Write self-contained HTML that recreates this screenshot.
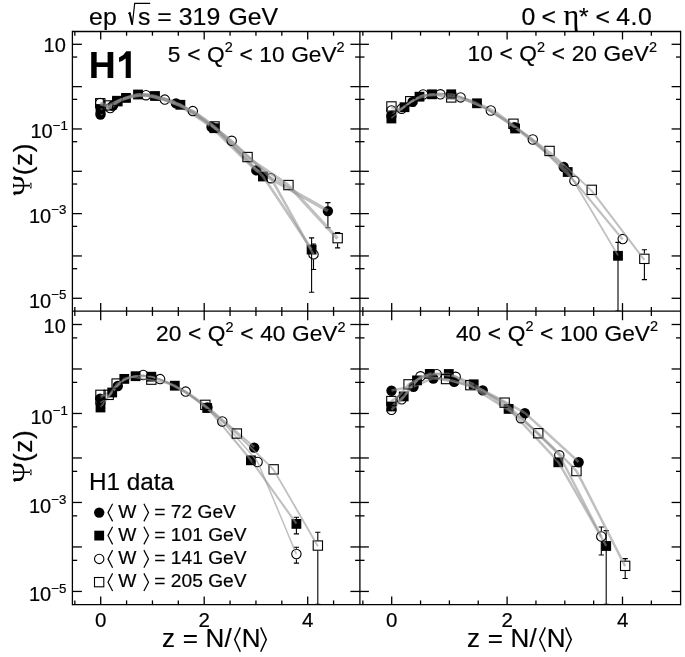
<!DOCTYPE html>
<html><head><meta charset="utf-8"><title>H1 KNO</title>
<style>html,body{margin:0;padding:0;background:#fff;}body{width:685px;height:657px;overflow:hidden;font-family:"Liberation Sans",sans-serif;}svg{display:block;will-change:transform}</style>
</head><body>
<svg width="685" height="657" viewBox="0 0 685 657" font-family="Liberation Sans, sans-serif" fill="#000">
<rect width="685" height="657" fill="#fff"/>
<g clip-path="url(#cpTL)">
<clipPath id="cpTL"><rect x="72.4" y="31.5" width="287.5" height="279.6"/></clipPath>
<line x1="327.90" y1="202.60" x2="327.90" y2="227.70" stroke="#000" stroke-width="1.1" />
<line x1="325.30" y1="202.60" x2="330.50" y2="202.60" stroke="#000" stroke-width="1.1" />
<line x1="325.30" y1="227.70" x2="330.50" y2="227.70" stroke="#000" stroke-width="1.1" />
<circle cx="100.5" cy="114.5" r="5.2" fill="#000"/>
<circle cx="113.0" cy="105.5" r="5.2" fill="#000"/>
<circle cx="176.0" cy="103.4" r="5.2" fill="#000"/>
<circle cx="211.5" cy="127.0" r="5.2" fill="#000"/>
<circle cx="256.3" cy="170.4" r="5.2" fill="#000"/>
<circle cx="327.9" cy="211.1" r="5.2" fill="#000"/>
<path d="M100.5,114.1 C100.9,113.8 112.2,105.6 113.0,105.1 C113.8,104.6 126.2,97.5 127.0,97.2 C127.8,96.9 140.2,94.1 141.0,94.1 C141.8,94.1 153.9,95.6 155.0,95.9 C156.1,96.2 174.3,102.1 176.0,103.0 C177.7,103.9 209.1,124.6 211.5,126.6 C213.9,128.6 252.8,167.5 256.3,170.0 C259.8,172.5 325.8,209.5 327.9,210.7" fill="none" stroke="#8f8f8f" stroke-opacity="0.56" stroke-width="3.4" stroke-linejoin="round" stroke-linecap="butt"/>
<line x1="311.60" y1="237.90" x2="311.60" y2="292.20" stroke="#000" stroke-width="1.1" />
<line x1="309.00" y1="237.90" x2="314.20" y2="237.90" stroke="#000" stroke-width="1.1" />
<line x1="309.00" y1="292.20" x2="314.20" y2="292.20" stroke="#000" stroke-width="1.1" />
<rect x="95.6" y="104.1" width="9.8" height="9.8" fill="#000"/>
<rect x="112.1" y="96.4" width="9.8" height="9.8" fill="#000"/>
<rect x="121.1" y="93.0" width="9.8" height="9.8" fill="#000"/>
<rect x="133.1" y="89.6" width="9.8" height="9.8" fill="#000"/>
<rect x="150.1" y="91.1" width="9.8" height="9.8" fill="#000"/>
<rect x="175.5" y="99.9" width="9.8" height="9.8" fill="#000"/>
<rect x="209.5" y="123.3" width="9.8" height="9.8" fill="#000"/>
<rect x="258.0" y="171.6" width="9.8" height="9.8" fill="#000"/>
<rect x="306.7" y="244.7" width="9.8" height="9.8" fill="#000"/>
<path d="M100.5,108.9 C100.8,108.8 110.5,105.9 111.0,105.7 C111.5,105.5 116.5,101.4 117.0,101.2 C117.5,101.0 125.4,98.0 126.0,97.8 C126.6,97.6 137.1,94.5 138.0,94.4 C138.9,94.3 153.7,95.6 155.0,95.9 C156.3,96.2 178.6,103.7 180.4,104.7 C182.2,105.7 211.9,125.9 214.4,128.1 C216.9,130.3 260.0,172.8 262.9,176.4 C265.8,180.0 310.1,247.3 311.6,249.5" fill="none" stroke="#8f8f8f" stroke-opacity="0.56" stroke-width="2.6" stroke-linejoin="round" stroke-linecap="butt"/>
<line x1="313.50" y1="244.00" x2="313.50" y2="249.20" stroke="#000" stroke-width="1.1" />
<line x1="313.50" y1="259.60" x2="313.50" y2="269.50" stroke="#000" stroke-width="1.1" />
<line x1="310.90" y1="244.00" x2="316.10" y2="244.00" stroke="#000" stroke-width="1.1" />
<line x1="310.90" y1="269.50" x2="316.10" y2="269.50" stroke="#000" stroke-width="1.1" />
<circle cx="100.2" cy="103.0" r="4.7" fill="none" stroke="#000" stroke-width="1.1"/>
<circle cx="110.2" cy="108.0" r="4.7" fill="none" stroke="#000" stroke-width="1.1"/>
<circle cx="146.0" cy="95.2" r="4.7" fill="none" stroke="#000" stroke-width="1.1"/>
<circle cx="164.8" cy="99.6" r="4.7" fill="none" stroke="#000" stroke-width="1.1"/>
<circle cx="192.8" cy="111.1" r="4.7" fill="none" stroke="#000" stroke-width="1.1"/>
<circle cx="231.7" cy="140.8" r="4.7" fill="none" stroke="#000" stroke-width="1.1"/>
<circle cx="270.9" cy="178.2" r="4.7" fill="none" stroke="#000" stroke-width="1.1"/>
<circle cx="313.5" cy="254.4" r="4.7" fill="none" stroke="#000" stroke-width="1.1"/>
<path d="M100.2,103.2 C100.5,103.3 109.6,108.2 110.2,108.2 C110.8,108.1 119.9,100.3 120.5,100.0 C121.1,99.6 129.7,96.9 130.5,96.8 C131.3,96.6 145.0,95.3 146.0,95.4 C147.0,95.4 163.4,99.3 164.8,99.8 C166.2,100.2 190.8,110.0 192.8,111.2 C194.8,112.5 229.4,138.9 231.7,141.0 C234.0,143.0 268.4,174.9 270.9,178.3 C273.4,181.8 312.2,252.3 313.5,254.6" fill="none" stroke="#8f8f8f" stroke-opacity="0.56" stroke-width="2.6" stroke-linejoin="round" stroke-linecap="butt"/>
<line x1="337.60" y1="232.50" x2="337.60" y2="232.90" stroke="#000" stroke-width="1.1" />
<line x1="337.60" y1="243.30" x2="337.60" y2="247.90" stroke="#000" stroke-width="1.1" />
<line x1="335.00" y1="232.50" x2="340.20" y2="232.50" stroke="#000" stroke-width="1.1" />
<line x1="335.00" y1="247.90" x2="340.20" y2="247.90" stroke="#000" stroke-width="1.1" />
<rect x="95.6" y="98.6" width="9.3" height="9.3" fill="none" stroke="#000" stroke-width="1.1"/>
<rect x="103.3" y="100.8" width="9.3" height="9.3" fill="none" stroke="#000" stroke-width="1.1"/>
<rect x="112.8" y="96.4" width="9.3" height="9.3" fill="none" stroke="#000" stroke-width="1.1"/>
<rect x="209.9" y="121.8" width="9.3" height="9.3" fill="none" stroke="#000" stroke-width="1.1"/>
<rect x="242.9" y="152.4" width="9.3" height="9.3" fill="none" stroke="#000" stroke-width="1.1"/>
<rect x="283.8" y="180.4" width="9.3" height="9.3" fill="none" stroke="#000" stroke-width="1.1"/>
<rect x="333.0" y="233.5" width="9.3" height="9.3" fill="none" stroke="#000" stroke-width="1.1"/>
<path d="M100.3,103.7 C100.5,103.8 107.5,106.0 108.0,105.9 C108.5,105.8 117.0,101.7 117.5,101.5 C118.0,101.3 124.0,99.0 124.5,98.8 C125.0,98.7 132.0,96.6 132.5,96.5 C133.0,96.4 140.0,94.8 140.5,94.8 C141.0,94.8 149.3,95.7 150.0,95.8 C150.7,95.9 163.1,99.4 164.0,99.7 C164.9,100.0 178.0,104.4 179.0,104.8 C180.0,105.2 194.9,112.6 196.0,113.3 C197.1,114.0 213.0,125.6 214.5,126.9 C216.0,128.2 245.3,155.6 247.5,157.4 C249.7,159.2 285.7,183.0 288.4,185.4 C291.1,187.8 336.1,236.9 337.6,238.5" fill="none" stroke="#8f8f8f" stroke-opacity="0.56" stroke-width="3.3" stroke-linejoin="round" stroke-linecap="butt"/>
</g>
<g clip-path="url(#cpTR)">
<clipPath id="cpTR"><rect x="359.9" y="31.5" width="320.70000000000005" height="279.6"/></clipPath>
<circle cx="391.4" cy="116.0" r="5.2" fill="#000"/>
<circle cx="412.6" cy="101.9" r="5.2" fill="#000"/>
<circle cx="514.5" cy="127.3" r="5.2" fill="#000"/>
<circle cx="563.7" cy="167.0" r="5.2" fill="#000"/>
<path d="M391.4,114.8 C392.0,114.4 411.4,101.4 412.6,100.7 C413.8,100.0 430.8,93.3 432.0,93.1 C433.2,92.9 450.1,94.3 451.5,94.6 C452.9,94.9 475.7,101.9 477.0,102.4 C478.3,102.9 493.9,110.7 495.0,111.4 C496.1,112.1 512.4,124.5 514.5,126.1 C516.6,127.7 562.2,164.6 563.7,165.8" fill="none" stroke="#8f8f8f" stroke-opacity="0.56" stroke-width="2.0" stroke-linejoin="round" stroke-linecap="butt"/>
<line x1="618.00" y1="242.40" x2="618.00" y2="311.00" stroke="#000" stroke-width="1.1" />
<line x1="615.40" y1="242.40" x2="620.60" y2="242.40" stroke="#000" stroke-width="1.1" />
<line x1="615.40" y1="311.00" x2="620.60" y2="311.00" stroke="#000" stroke-width="1.1" />
<rect x="386.5" y="113.6" width="9.8" height="9.8" fill="#000"/>
<rect x="399.6" y="102.3" width="9.8" height="9.8" fill="#000"/>
<rect x="414.6" y="91.8" width="9.8" height="9.8" fill="#000"/>
<rect x="427.1" y="89.4" width="9.8" height="9.8" fill="#000"/>
<rect x="446.3" y="89.4" width="9.8" height="9.8" fill="#000"/>
<rect x="472.1" y="98.4" width="9.8" height="9.8" fill="#000"/>
<rect x="510.2" y="123.6" width="9.8" height="9.8" fill="#000"/>
<rect x="562.8" y="167.1" width="9.8" height="9.8" fill="#000"/>
<rect x="613.1" y="250.9" width="9.8" height="9.8" fill="#000"/>
<path d="M391.4,118.1 C391.8,117.8 403.7,107.5 404.5,106.8 C405.3,106.1 418.7,96.7 419.5,96.3 C420.3,95.9 431.0,94.0 432.0,93.9 C433.0,93.8 449.8,93.6 451.2,93.9 C452.6,94.2 475.1,101.9 477.0,102.9 C478.9,103.9 512.4,126.0 515.1,128.1 C517.8,130.2 564.6,167.8 567.7,171.6 C570.8,175.4 616.5,252.9 618.0,255.4" fill="none" stroke="#8f8f8f" stroke-opacity="0.56" stroke-width="1.7" stroke-linejoin="round" stroke-linecap="butt"/>
<circle cx="391.5" cy="110.5" r="4.7" fill="none" stroke="#000" stroke-width="1.1"/>
<circle cx="401.7" cy="108.7" r="4.7" fill="none" stroke="#000" stroke-width="1.1"/>
<circle cx="423.2" cy="94.5" r="4.7" fill="none" stroke="#000" stroke-width="1.1"/>
<circle cx="440.4" cy="94.3" r="4.7" fill="none" stroke="#000" stroke-width="1.1"/>
<circle cx="460.6" cy="97.4" r="4.7" fill="none" stroke="#000" stroke-width="1.1"/>
<circle cx="490.8" cy="110.5" r="4.7" fill="none" stroke="#000" stroke-width="1.1"/>
<circle cx="532.8" cy="139.5" r="4.7" fill="none" stroke="#000" stroke-width="1.1"/>
<circle cx="574.4" cy="180.8" r="4.7" fill="none" stroke="#000" stroke-width="1.1"/>
<circle cx="622.7" cy="239.1" r="4.7" fill="none" stroke="#000" stroke-width="1.1"/>
<path d="M391.5,110.9 C391.8,110.8 401.1,109.4 401.7,109.1 C402.3,108.8 411.4,101.6 412.0,101.2 C412.6,100.8 422.3,95.1 423.2,94.9 C424.1,94.7 439.3,94.6 440.4,94.7 C441.5,94.8 459.1,97.3 460.6,97.8 C462.1,98.3 488.6,109.6 490.8,110.9 C493.0,112.2 530.3,137.8 532.8,139.9 C535.3,142.0 571.7,178.2 574.4,181.2 C577.1,184.2 621.3,237.8 622.7,239.5" fill="none" stroke="#8f8f8f" stroke-opacity="0.56" stroke-width="2.1" stroke-linejoin="round" stroke-linecap="butt"/>
<line x1="644.40" y1="249.80" x2="644.40" y2="253.60" stroke="#000" stroke-width="1.1" />
<line x1="644.40" y1="264.00" x2="644.40" y2="279.60" stroke="#000" stroke-width="1.1" />
<line x1="641.80" y1="249.80" x2="647.00" y2="249.80" stroke="#000" stroke-width="1.1" />
<line x1="641.80" y1="279.60" x2="647.00" y2="279.60" stroke="#000" stroke-width="1.1" />
<rect x="386.8" y="101.8" width="9.3" height="9.3" fill="none" stroke="#000" stroke-width="1.1"/>
<rect x="405.6" y="96.6" width="9.3" height="9.3" fill="none" stroke="#000" stroke-width="1.1"/>
<rect x="446.6" y="92.8" width="9.3" height="9.3" fill="none" stroke="#000" stroke-width="1.1"/>
<rect x="508.8" y="119.1" width="9.3" height="9.3" fill="none" stroke="#000" stroke-width="1.1"/>
<rect x="544.9" y="146.3" width="9.3" height="9.3" fill="none" stroke="#000" stroke-width="1.1"/>
<rect x="587.1" y="185.2" width="9.3" height="9.3" fill="none" stroke="#000" stroke-width="1.1"/>
<rect x="639.7" y="254.2" width="9.3" height="9.3" fill="none" stroke="#000" stroke-width="1.1"/>
<path d="M391.4,107.7 C391.7,107.7 399.9,108.9 400.5,108.7 C401.1,108.5 409.6,102.8 410.2,102.5 C410.8,102.2 418.5,98.4 419.0,98.2 C419.5,98.0 427.5,95.8 428.0,95.7 C428.5,95.6 436.3,95.3 437.0,95.4 C437.7,95.5 450.4,98.5 451.2,98.6 C452.0,98.8 464.1,100.2 465.0,100.4 C465.9,100.6 481.0,106.4 482.0,106.8 C483.0,107.2 496.1,114.3 497.0,114.8 C497.9,115.3 511.8,123.9 513.4,125.0 C515.0,126.1 547.2,150.1 549.6,152.1 C552.0,154.1 589.0,187.8 591.8,191.0 C594.6,194.2 642.8,257.9 644.4,260.0" fill="none" stroke="#8f8f8f" stroke-opacity="0.56" stroke-width="1.9" stroke-linejoin="round" stroke-linecap="butt"/>
</g>
<g clip-path="url(#cpBL)">
<clipPath id="cpBL"><rect x="72.4" y="311.1" width="287.5" height="293.5"/></clipPath>
<circle cx="100.2" cy="398.7" r="5.2" fill="#000"/>
<circle cx="117.8" cy="386.0" r="5.2" fill="#000"/>
<circle cx="207.4" cy="407.4" r="5.2" fill="#000"/>
<circle cx="254.2" cy="447.6" r="5.2" fill="#000"/>
<path d="M100.2,398.1 C100.7,397.7 116.7,386.1 117.8,385.4 C118.9,384.7 134.6,375.7 135.6,375.4 C136.6,375.1 150.8,376.3 152.0,376.6 C153.2,376.9 172.9,384.2 174.0,384.7 C175.1,385.2 189.0,393.3 190.0,394.0 C191.0,394.7 205.5,405.2 207.4,406.8 C209.3,408.4 252.8,445.8 254.2,447.0" fill="none" stroke="#8f8f8f" stroke-opacity="0.56" stroke-width="2.0" stroke-linejoin="round" stroke-linecap="butt"/>
<line x1="296.40" y1="517.20" x2="296.40" y2="533.90" stroke="#000" stroke-width="1.1" />
<line x1="293.80" y1="517.20" x2="299.00" y2="517.20" stroke="#000" stroke-width="1.1" />
<line x1="293.80" y1="533.90" x2="299.00" y2="533.90" stroke="#000" stroke-width="1.1" />
<rect x="95.6" y="402.6" width="9.8" height="9.8" fill="#000"/>
<rect x="107.3" y="387.6" width="9.8" height="9.8" fill="#000"/>
<rect x="119.4" y="374.0" width="9.8" height="9.8" fill="#000"/>
<rect x="130.7" y="371.3" width="9.8" height="9.8" fill="#000"/>
<rect x="146.4" y="371.8" width="9.8" height="9.8" fill="#000"/>
<rect x="169.9" y="380.8" width="9.8" height="9.8" fill="#000"/>
<rect x="202.3" y="403.1" width="9.8" height="9.8" fill="#000"/>
<rect x="246.0" y="455.4" width="9.8" height="9.8" fill="#000"/>
<rect x="291.5" y="519.0" width="9.8" height="9.8" fill="#000"/>
<path d="M100.5,407.3 C100.9,406.9 111.5,393.2 112.2,392.3 C112.9,391.4 123.6,379.2 124.3,378.7 C125.0,378.2 134.8,376.1 135.6,376.0 C136.4,375.9 150.1,376.2 151.3,376.5 C152.5,376.8 173.1,384.6 174.8,385.5 C176.5,386.4 204.9,405.6 207.2,407.8 C209.5,410.0 248.2,456.6 250.9,460.1 C253.6,463.6 295.0,521.8 296.4,523.7" fill="none" stroke="#8f8f8f" stroke-opacity="0.56" stroke-width="2.1" stroke-linejoin="round" stroke-linecap="butt"/>
<line x1="296.40" y1="547.30" x2="296.40" y2="548.80" stroke="#000" stroke-width="1.1" />
<line x1="296.40" y1="559.20" x2="296.40" y2="563.10" stroke="#000" stroke-width="1.1" />
<line x1="293.80" y1="547.30" x2="299.00" y2="547.30" stroke="#000" stroke-width="1.1" />
<line x1="293.80" y1="563.10" x2="299.00" y2="563.10" stroke="#000" stroke-width="1.1" />
<circle cx="100.4" cy="402.5" r="4.7" fill="none" stroke="#000" stroke-width="1.1"/>
<circle cx="143.2" cy="375.0" r="4.7" fill="none" stroke="#000" stroke-width="1.1"/>
<circle cx="160.1" cy="379.1" r="4.7" fill="none" stroke="#000" stroke-width="1.1"/>
<circle cx="185.7" cy="391.6" r="4.7" fill="none" stroke="#000" stroke-width="1.1"/>
<circle cx="222.3" cy="421.5" r="4.7" fill="none" stroke="#000" stroke-width="1.1"/>
<circle cx="257.6" cy="462.0" r="4.7" fill="none" stroke="#000" stroke-width="1.1"/>
<circle cx="296.4" cy="554.0" r="4.7" fill="none" stroke="#000" stroke-width="1.1"/>
<path d="M100.4,402.7 C100.7,402.5 108.9,396.3 109.5,395.7 C110.1,395.1 118.4,384.0 119.0,383.5 C119.6,383.0 128.3,377.7 129.0,377.5 C129.7,377.3 142.3,375.1 143.2,375.2 C144.1,375.3 158.8,378.8 160.1,379.3 C161.4,379.8 183.8,390.5 185.7,391.8 C187.6,393.1 220.1,419.6 222.3,421.7 C224.5,423.8 255.4,458.2 257.6,462.2 C259.8,466.2 295.2,551.4 296.4,554.2" fill="none" stroke="#8f8f8f" stroke-opacity="0.56" stroke-width="1.5" stroke-linejoin="round" stroke-linecap="butt"/>
<line x1="317.80" y1="532.30" x2="317.80" y2="540.40" stroke="#000" stroke-width="1.1" />
<line x1="317.80" y1="550.80" x2="317.80" y2="604.40" stroke="#000" stroke-width="1.1" />
<line x1="315.20" y1="532.30" x2="320.40" y2="532.30" stroke="#000" stroke-width="1.1" />
<line x1="315.20" y1="604.40" x2="320.40" y2="604.40" stroke="#000" stroke-width="1.1" />
<rect x="95.8" y="390.2" width="9.3" height="9.3" fill="none" stroke="#000" stroke-width="1.1"/>
<rect x="104.0" y="390.2" width="9.3" height="9.3" fill="none" stroke="#000" stroke-width="1.1"/>
<rect x="112.0" y="378.9" width="9.3" height="9.3" fill="none" stroke="#000" stroke-width="1.1"/>
<rect x="146.7" y="375.0" width="9.3" height="9.3" fill="none" stroke="#000" stroke-width="1.1"/>
<rect x="200.7" y="400.2" width="9.3" height="9.3" fill="none" stroke="#000" stroke-width="1.1"/>
<rect x="232.2" y="428.9" width="9.3" height="9.3" fill="none" stroke="#000" stroke-width="1.1"/>
<rect x="269.0" y="464.7" width="9.3" height="9.3" fill="none" stroke="#000" stroke-width="1.1"/>
<rect x="313.2" y="540.9" width="9.3" height="9.3" fill="none" stroke="#000" stroke-width="1.1"/>
<path d="M100.4,395.4 C100.6,395.4 108.2,395.7 108.7,395.4 C109.2,395.1 116.2,384.6 116.7,384.1 C117.2,383.6 124.0,380.0 124.5,379.8 C125.0,379.6 131.2,377.2 132.0,377.2 C132.8,377.2 150.2,380.0 151.3,380.2 C152.4,380.4 168.9,383.9 170.0,384.3 C171.1,384.7 186.9,393.2 188.0,393.8 C189.1,394.4 203.8,404.3 205.3,405.5 C206.8,406.7 234.8,432.2 236.8,434.1 C238.8,436.0 271.2,466.5 273.6,469.9 C276.0,473.3 316.5,543.9 317.8,546.2" fill="none" stroke="#8f8f8f" stroke-opacity="0.56" stroke-width="1.8" stroke-linejoin="round" stroke-linecap="butt"/>
</g>
<g clip-path="url(#cpBR)">
<clipPath id="cpBR"><rect x="359.9" y="311.1" width="320.70000000000005" height="293.5"/></clipPath>
<circle cx="391.5" cy="390.7" r="5.2" fill="#000"/>
<circle cx="413.5" cy="386.8" r="5.2" fill="#000"/>
<circle cx="433.3" cy="378.5" r="5.2" fill="#000"/>
<circle cx="454.2" cy="381.9" r="5.2" fill="#000"/>
<circle cx="482.7" cy="390.4" r="5.2" fill="#000"/>
<circle cx="524.8" cy="413.3" r="5.2" fill="#000"/>
<circle cx="578.6" cy="462.3" r="5.2" fill="#000"/>
<path d="M391.5,390.4 C392.2,390.3 412.2,386.9 413.5,386.5 C414.8,386.1 432.1,378.3 433.3,378.2 C434.5,378.1 452.7,381.2 454.2,381.6 C455.7,382.0 480.6,389.2 482.7,390.1 C484.8,391.0 521.9,410.8 524.8,413.0 C527.7,415.2 577.0,460.5 578.6,462.0" fill="none" stroke="#8f8f8f" stroke-opacity="0.56" stroke-width="2.5" stroke-linejoin="round" stroke-linecap="butt"/>
<line x1="606.20" y1="530.60" x2="606.20" y2="604.40" stroke="#000" stroke-width="1.1" />
<line x1="603.60" y1="530.60" x2="608.80" y2="530.60" stroke="#000" stroke-width="1.1" />
<line x1="603.60" y1="604.40" x2="608.80" y2="604.40" stroke="#000" stroke-width="1.1" />
<rect x="386.5" y="401.6" width="9.8" height="9.8" fill="#000"/>
<rect x="398.8" y="391.5" width="9.8" height="9.8" fill="#000"/>
<rect x="412.1" y="375.5" width="9.8" height="9.8" fill="#000"/>
<rect x="424.9" y="369.0" width="9.8" height="9.8" fill="#000"/>
<rect x="443.9" y="369.1" width="9.8" height="9.8" fill="#000"/>
<rect x="468.8" y="379.4" width="9.8" height="9.8" fill="#000"/>
<rect x="503.7" y="404.0" width="9.8" height="9.8" fill="#000"/>
<rect x="553.4" y="457.4" width="9.8" height="9.8" fill="#000"/>
<rect x="601.3" y="541.1" width="9.8" height="9.8" fill="#000"/>
<path d="M391.4,406.4 C391.8,406.1 402.9,397.1 403.7,396.3 C404.5,395.5 416.2,381.0 417.0,380.3 C417.8,379.6 428.8,374.0 429.8,373.8 C430.8,373.6 447.5,373.6 448.8,373.9 C450.1,374.2 471.9,383.2 473.7,384.2 C475.5,385.2 506.1,406.5 508.6,408.8 C511.1,411.1 555.4,458.1 558.3,462.2 C561.2,466.3 604.8,543.4 606.2,545.9" fill="none" stroke="#8f8f8f" stroke-opacity="0.56" stroke-width="2.4" stroke-linejoin="round" stroke-linecap="butt"/>
<line x1="601.30" y1="527.00" x2="601.30" y2="531.30" stroke="#000" stroke-width="1.1" />
<line x1="601.30" y1="541.70" x2="601.30" y2="555.00" stroke="#000" stroke-width="1.1" />
<line x1="598.70" y1="527.00" x2="603.90" y2="527.00" stroke="#000" stroke-width="1.1" />
<line x1="598.70" y1="555.00" x2="603.90" y2="555.00" stroke="#000" stroke-width="1.1" />
<circle cx="391.5" cy="409.8" r="4.7" fill="none" stroke="#000" stroke-width="1.1"/>
<circle cx="401.7" cy="399.3" r="4.7" fill="none" stroke="#000" stroke-width="1.1"/>
<circle cx="420.5" cy="376.3" r="4.7" fill="none" stroke="#000" stroke-width="1.1"/>
<circle cx="436.7" cy="374.2" r="4.7" fill="none" stroke="#000" stroke-width="1.1"/>
<circle cx="455.7" cy="376.8" r="4.7" fill="none" stroke="#000" stroke-width="1.1"/>
<circle cx="520.9" cy="418.2" r="4.7" fill="none" stroke="#000" stroke-width="1.1"/>
<circle cx="559.3" cy="455.3" r="4.7" fill="none" stroke="#000" stroke-width="1.1"/>
<circle cx="601.3" cy="536.5" r="4.7" fill="none" stroke="#000" stroke-width="1.1"/>
<path d="M391.5,409.9 C391.8,409.6 401.1,400.1 401.7,399.4 C402.3,398.7 410.4,388.8 411.0,388.1 C411.6,387.4 419.7,376.8 420.5,376.4 C421.3,376.0 435.6,374.3 436.7,374.3 C437.8,374.3 453.2,375.6 455.7,376.9 C458.2,378.2 517.8,415.9 520.9,418.3 C524.0,420.7 556.9,451.9 559.3,455.4 C561.7,458.9 600.0,534.2 601.3,536.6" fill="none" stroke="#8f8f8f" stroke-opacity="0.56" stroke-width="2.4" stroke-linejoin="round" stroke-linecap="butt"/>
<line x1="625.20" y1="558.60" x2="625.20" y2="560.70" stroke="#000" stroke-width="1.1" />
<line x1="625.20" y1="571.10" x2="625.20" y2="578.50" stroke="#000" stroke-width="1.1" />
<line x1="622.60" y1="558.60" x2="627.80" y2="558.60" stroke="#000" stroke-width="1.1" />
<line x1="622.60" y1="578.50" x2="627.80" y2="578.50" stroke="#000" stroke-width="1.1" />
<rect x="386.7" y="396.4" width="9.3" height="9.3" fill="none" stroke="#000" stroke-width="1.1"/>
<rect x="403.9" y="379.7" width="9.3" height="9.3" fill="none" stroke="#000" stroke-width="1.1"/>
<rect x="441.4" y="374.4" width="9.3" height="9.3" fill="none" stroke="#000" stroke-width="1.1"/>
<rect x="465.7" y="380.5" width="9.3" height="9.3" fill="none" stroke="#000" stroke-width="1.1"/>
<rect x="500.0" y="398.0" width="9.3" height="9.3" fill="none" stroke="#000" stroke-width="1.1"/>
<rect x="533.6" y="428.6" width="9.3" height="9.3" fill="none" stroke="#000" stroke-width="1.1"/>
<rect x="571.8" y="466.4" width="9.3" height="9.3" fill="none" stroke="#000" stroke-width="1.1"/>
<rect x="620.5" y="561.2" width="9.3" height="9.3" fill="none" stroke="#000" stroke-width="1.1"/>
<path d="M391.3,401.3 C391.5,401.1 399.0,395.8 399.5,395.3 C400.0,394.8 408.0,385.1 408.5,384.6 C409.0,384.2 415.5,380.5 416.0,380.3 C416.5,380.1 423.1,376.8 424.0,376.8 C424.9,376.8 444.6,379.0 446.0,379.3 C447.4,379.6 468.5,384.7 470.3,385.4 C472.1,386.1 502.6,401.5 504.6,402.9 C506.6,404.3 536.1,431.4 538.3,433.5 C540.5,435.6 573.9,467.3 576.5,471.3 C579.1,475.3 623.7,563.4 625.2,566.2" fill="none" stroke="#8f8f8f" stroke-opacity="0.56" stroke-width="2.5" stroke-linejoin="round" stroke-linecap="butt"/>
</g>
<line x1="72.40" y1="31.50" x2="680.60" y2="31.50" stroke="#000" stroke-width="1.3" />
<line x1="72.40" y1="311.10" x2="680.60" y2="311.10" stroke="#000" stroke-width="1.3" />
<line x1="72.40" y1="604.60" x2="680.60" y2="604.60" stroke="#000" stroke-width="1.3" />
<line x1="72.40" y1="30.85" x2="72.40" y2="605.25" stroke="#000" stroke-width="1.3" />
<line x1="359.90" y1="31.50" x2="359.90" y2="604.60" stroke="#000" stroke-width="1.3" />
<line x1="680.60" y1="30.85" x2="680.60" y2="605.25" stroke="#000" stroke-width="1.3" />
<line x1="74.83" y1="31.50" x2="74.83" y2="35.70" stroke="#000" stroke-width="1.3" />
<line x1="74.83" y1="306.90" x2="74.83" y2="315.89" stroke="#000" stroke-width="1.3" />
<line x1="74.83" y1="600.40" x2="74.83" y2="604.60" stroke="#000" stroke-width="1.3" />
<line x1="100.70" y1="31.50" x2="100.70" y2="39.50" stroke="#000" stroke-width="1.3" />
<line x1="100.70" y1="303.10" x2="100.70" y2="320.22" stroke="#000" stroke-width="1.3" />
<line x1="100.70" y1="596.60" x2="100.70" y2="604.60" stroke="#000" stroke-width="1.3" />
<line x1="126.58" y1="31.50" x2="126.58" y2="35.70" stroke="#000" stroke-width="1.3" />
<line x1="126.58" y1="306.90" x2="126.58" y2="315.89" stroke="#000" stroke-width="1.3" />
<line x1="126.58" y1="600.40" x2="126.58" y2="604.60" stroke="#000" stroke-width="1.3" />
<line x1="152.45" y1="31.50" x2="152.45" y2="35.70" stroke="#000" stroke-width="1.3" />
<line x1="152.45" y1="306.90" x2="152.45" y2="315.89" stroke="#000" stroke-width="1.3" />
<line x1="152.45" y1="600.40" x2="152.45" y2="604.60" stroke="#000" stroke-width="1.3" />
<line x1="178.32" y1="31.50" x2="178.32" y2="35.70" stroke="#000" stroke-width="1.3" />
<line x1="178.32" y1="306.90" x2="178.32" y2="315.89" stroke="#000" stroke-width="1.3" />
<line x1="178.32" y1="600.40" x2="178.32" y2="604.60" stroke="#000" stroke-width="1.3" />
<line x1="204.20" y1="31.50" x2="204.20" y2="39.50" stroke="#000" stroke-width="1.3" />
<line x1="204.20" y1="303.10" x2="204.20" y2="320.22" stroke="#000" stroke-width="1.3" />
<line x1="204.20" y1="596.60" x2="204.20" y2="604.60" stroke="#000" stroke-width="1.3" />
<line x1="230.07" y1="31.50" x2="230.07" y2="35.70" stroke="#000" stroke-width="1.3" />
<line x1="230.07" y1="306.90" x2="230.07" y2="315.89" stroke="#000" stroke-width="1.3" />
<line x1="230.07" y1="600.40" x2="230.07" y2="604.60" stroke="#000" stroke-width="1.3" />
<line x1="255.95" y1="31.50" x2="255.95" y2="35.70" stroke="#000" stroke-width="1.3" />
<line x1="255.95" y1="306.90" x2="255.95" y2="315.89" stroke="#000" stroke-width="1.3" />
<line x1="255.95" y1="600.40" x2="255.95" y2="604.60" stroke="#000" stroke-width="1.3" />
<line x1="281.82" y1="31.50" x2="281.82" y2="35.70" stroke="#000" stroke-width="1.3" />
<line x1="281.82" y1="306.90" x2="281.82" y2="315.89" stroke="#000" stroke-width="1.3" />
<line x1="281.82" y1="600.40" x2="281.82" y2="604.60" stroke="#000" stroke-width="1.3" />
<line x1="307.70" y1="31.50" x2="307.70" y2="39.50" stroke="#000" stroke-width="1.3" />
<line x1="307.70" y1="303.10" x2="307.70" y2="320.22" stroke="#000" stroke-width="1.3" />
<line x1="307.70" y1="596.60" x2="307.70" y2="604.60" stroke="#000" stroke-width="1.3" />
<line x1="333.57" y1="31.50" x2="333.57" y2="35.70" stroke="#000" stroke-width="1.3" />
<line x1="333.57" y1="306.90" x2="333.57" y2="315.89" stroke="#000" stroke-width="1.3" />
<line x1="333.57" y1="600.40" x2="333.57" y2="604.60" stroke="#000" stroke-width="1.3" />
<line x1="362.85" y1="31.50" x2="362.85" y2="35.70" stroke="#000" stroke-width="1.3" />
<line x1="362.85" y1="306.90" x2="362.85" y2="315.89" stroke="#000" stroke-width="1.3" />
<line x1="362.85" y1="600.40" x2="362.85" y2="604.60" stroke="#000" stroke-width="1.3" />
<line x1="391.70" y1="31.50" x2="391.70" y2="39.50" stroke="#000" stroke-width="1.3" />
<line x1="391.70" y1="303.10" x2="391.70" y2="320.22" stroke="#000" stroke-width="1.3" />
<line x1="391.70" y1="596.60" x2="391.70" y2="604.60" stroke="#000" stroke-width="1.3" />
<line x1="420.55" y1="31.50" x2="420.55" y2="35.70" stroke="#000" stroke-width="1.3" />
<line x1="420.55" y1="306.90" x2="420.55" y2="315.89" stroke="#000" stroke-width="1.3" />
<line x1="420.55" y1="600.40" x2="420.55" y2="604.60" stroke="#000" stroke-width="1.3" />
<line x1="449.40" y1="31.50" x2="449.40" y2="35.70" stroke="#000" stroke-width="1.3" />
<line x1="449.40" y1="306.90" x2="449.40" y2="315.89" stroke="#000" stroke-width="1.3" />
<line x1="449.40" y1="600.40" x2="449.40" y2="604.60" stroke="#000" stroke-width="1.3" />
<line x1="478.25" y1="31.50" x2="478.25" y2="35.70" stroke="#000" stroke-width="1.3" />
<line x1="478.25" y1="306.90" x2="478.25" y2="315.89" stroke="#000" stroke-width="1.3" />
<line x1="478.25" y1="600.40" x2="478.25" y2="604.60" stroke="#000" stroke-width="1.3" />
<line x1="507.10" y1="31.50" x2="507.10" y2="39.50" stroke="#000" stroke-width="1.3" />
<line x1="507.10" y1="303.10" x2="507.10" y2="320.22" stroke="#000" stroke-width="1.3" />
<line x1="507.10" y1="596.60" x2="507.10" y2="604.60" stroke="#000" stroke-width="1.3" />
<line x1="535.95" y1="31.50" x2="535.95" y2="35.70" stroke="#000" stroke-width="1.3" />
<line x1="535.95" y1="306.90" x2="535.95" y2="315.89" stroke="#000" stroke-width="1.3" />
<line x1="535.95" y1="600.40" x2="535.95" y2="604.60" stroke="#000" stroke-width="1.3" />
<line x1="564.80" y1="31.50" x2="564.80" y2="35.70" stroke="#000" stroke-width="1.3" />
<line x1="564.80" y1="306.90" x2="564.80" y2="315.89" stroke="#000" stroke-width="1.3" />
<line x1="564.80" y1="600.40" x2="564.80" y2="604.60" stroke="#000" stroke-width="1.3" />
<line x1="593.65" y1="31.50" x2="593.65" y2="35.70" stroke="#000" stroke-width="1.3" />
<line x1="593.65" y1="306.90" x2="593.65" y2="315.89" stroke="#000" stroke-width="1.3" />
<line x1="593.65" y1="600.40" x2="593.65" y2="604.60" stroke="#000" stroke-width="1.3" />
<line x1="622.50" y1="31.50" x2="622.50" y2="39.50" stroke="#000" stroke-width="1.3" />
<line x1="622.50" y1="303.10" x2="622.50" y2="320.22" stroke="#000" stroke-width="1.3" />
<line x1="622.50" y1="596.60" x2="622.50" y2="604.60" stroke="#000" stroke-width="1.3" />
<line x1="651.35" y1="31.50" x2="651.35" y2="35.70" stroke="#000" stroke-width="1.3" />
<line x1="651.35" y1="306.90" x2="651.35" y2="315.89" stroke="#000" stroke-width="1.3" />
<line x1="651.35" y1="600.40" x2="651.35" y2="604.60" stroke="#000" stroke-width="1.3" />
<line x1="72.40" y1="44.30" x2="81.90" y2="44.30" stroke="#000" stroke-width="1.3" />
<line x1="350.40" y1="44.30" x2="368.90" y2="44.30" stroke="#000" stroke-width="1.3" />
<line x1="671.60" y1="44.30" x2="680.60" y2="44.30" stroke="#000" stroke-width="1.3" />
<line x1="72.40" y1="57.04" x2="77.20" y2="57.04" stroke="#000" stroke-width="1.3" />
<line x1="355.10" y1="57.04" x2="364.50" y2="57.04" stroke="#000" stroke-width="1.3" />
<line x1="676.00" y1="57.04" x2="680.60" y2="57.04" stroke="#000" stroke-width="1.3" />
<line x1="72.40" y1="86.63" x2="81.90" y2="86.63" stroke="#000" stroke-width="1.3" />
<line x1="350.40" y1="86.63" x2="368.90" y2="86.63" stroke="#000" stroke-width="1.3" />
<line x1="671.60" y1="86.63" x2="680.60" y2="86.63" stroke="#000" stroke-width="1.3" />
<line x1="72.40" y1="99.37" x2="77.20" y2="99.37" stroke="#000" stroke-width="1.3" />
<line x1="355.10" y1="99.37" x2="364.50" y2="99.37" stroke="#000" stroke-width="1.3" />
<line x1="676.00" y1="99.37" x2="680.60" y2="99.37" stroke="#000" stroke-width="1.3" />
<line x1="72.40" y1="128.96" x2="81.90" y2="128.96" stroke="#000" stroke-width="1.3" />
<line x1="350.40" y1="128.96" x2="368.90" y2="128.96" stroke="#000" stroke-width="1.3" />
<line x1="671.60" y1="128.96" x2="680.60" y2="128.96" stroke="#000" stroke-width="1.3" />
<line x1="72.40" y1="141.70" x2="77.20" y2="141.70" stroke="#000" stroke-width="1.3" />
<line x1="355.10" y1="141.70" x2="364.50" y2="141.70" stroke="#000" stroke-width="1.3" />
<line x1="676.00" y1="141.70" x2="680.60" y2="141.70" stroke="#000" stroke-width="1.3" />
<line x1="72.40" y1="171.29" x2="81.90" y2="171.29" stroke="#000" stroke-width="1.3" />
<line x1="350.40" y1="171.29" x2="368.90" y2="171.29" stroke="#000" stroke-width="1.3" />
<line x1="671.60" y1="171.29" x2="680.60" y2="171.29" stroke="#000" stroke-width="1.3" />
<line x1="72.40" y1="184.03" x2="77.20" y2="184.03" stroke="#000" stroke-width="1.3" />
<line x1="355.10" y1="184.03" x2="364.50" y2="184.03" stroke="#000" stroke-width="1.3" />
<line x1="676.00" y1="184.03" x2="680.60" y2="184.03" stroke="#000" stroke-width="1.3" />
<line x1="72.40" y1="213.62" x2="81.90" y2="213.62" stroke="#000" stroke-width="1.3" />
<line x1="350.40" y1="213.62" x2="368.90" y2="213.62" stroke="#000" stroke-width="1.3" />
<line x1="671.60" y1="213.62" x2="680.60" y2="213.62" stroke="#000" stroke-width="1.3" />
<line x1="72.40" y1="226.36" x2="77.20" y2="226.36" stroke="#000" stroke-width="1.3" />
<line x1="355.10" y1="226.36" x2="364.50" y2="226.36" stroke="#000" stroke-width="1.3" />
<line x1="676.00" y1="226.36" x2="680.60" y2="226.36" stroke="#000" stroke-width="1.3" />
<line x1="72.40" y1="255.95" x2="81.90" y2="255.95" stroke="#000" stroke-width="1.3" />
<line x1="350.40" y1="255.95" x2="368.90" y2="255.95" stroke="#000" stroke-width="1.3" />
<line x1="671.60" y1="255.95" x2="680.60" y2="255.95" stroke="#000" stroke-width="1.3" />
<line x1="72.40" y1="268.69" x2="77.20" y2="268.69" stroke="#000" stroke-width="1.3" />
<line x1="355.10" y1="268.69" x2="364.50" y2="268.69" stroke="#000" stroke-width="1.3" />
<line x1="676.00" y1="268.69" x2="680.60" y2="268.69" stroke="#000" stroke-width="1.3" />
<line x1="72.40" y1="298.28" x2="81.90" y2="298.28" stroke="#000" stroke-width="1.3" />
<line x1="350.40" y1="298.28" x2="368.90" y2="298.28" stroke="#000" stroke-width="1.3" />
<line x1="671.60" y1="298.28" x2="680.60" y2="298.28" stroke="#000" stroke-width="1.3" />
<line x1="72.40" y1="324.50" x2="81.90" y2="324.50" stroke="#000" stroke-width="1.3" />
<line x1="350.40" y1="324.50" x2="368.90" y2="324.50" stroke="#000" stroke-width="1.3" />
<line x1="671.60" y1="324.50" x2="680.60" y2="324.50" stroke="#000" stroke-width="1.3" />
<line x1="72.40" y1="337.89" x2="77.20" y2="337.89" stroke="#000" stroke-width="1.3" />
<line x1="355.10" y1="337.89" x2="364.50" y2="337.89" stroke="#000" stroke-width="1.3" />
<line x1="676.00" y1="337.89" x2="680.60" y2="337.89" stroke="#000" stroke-width="1.3" />
<line x1="72.40" y1="368.99" x2="81.90" y2="368.99" stroke="#000" stroke-width="1.3" />
<line x1="350.40" y1="368.99" x2="368.90" y2="368.99" stroke="#000" stroke-width="1.3" />
<line x1="671.60" y1="368.99" x2="680.60" y2="368.99" stroke="#000" stroke-width="1.3" />
<line x1="72.40" y1="382.38" x2="77.20" y2="382.38" stroke="#000" stroke-width="1.3" />
<line x1="355.10" y1="382.38" x2="364.50" y2="382.38" stroke="#000" stroke-width="1.3" />
<line x1="676.00" y1="382.38" x2="680.60" y2="382.38" stroke="#000" stroke-width="1.3" />
<line x1="72.40" y1="413.48" x2="81.90" y2="413.48" stroke="#000" stroke-width="1.3" />
<line x1="350.40" y1="413.48" x2="368.90" y2="413.48" stroke="#000" stroke-width="1.3" />
<line x1="671.60" y1="413.48" x2="680.60" y2="413.48" stroke="#000" stroke-width="1.3" />
<line x1="72.40" y1="426.87" x2="77.20" y2="426.87" stroke="#000" stroke-width="1.3" />
<line x1="355.10" y1="426.87" x2="364.50" y2="426.87" stroke="#000" stroke-width="1.3" />
<line x1="676.00" y1="426.87" x2="680.60" y2="426.87" stroke="#000" stroke-width="1.3" />
<line x1="72.40" y1="457.97" x2="81.90" y2="457.97" stroke="#000" stroke-width="1.3" />
<line x1="350.40" y1="457.97" x2="368.90" y2="457.97" stroke="#000" stroke-width="1.3" />
<line x1="671.60" y1="457.97" x2="680.60" y2="457.97" stroke="#000" stroke-width="1.3" />
<line x1="72.40" y1="471.36" x2="77.20" y2="471.36" stroke="#000" stroke-width="1.3" />
<line x1="355.10" y1="471.36" x2="364.50" y2="471.36" stroke="#000" stroke-width="1.3" />
<line x1="676.00" y1="471.36" x2="680.60" y2="471.36" stroke="#000" stroke-width="1.3" />
<line x1="72.40" y1="502.46" x2="81.90" y2="502.46" stroke="#000" stroke-width="1.3" />
<line x1="350.40" y1="502.46" x2="368.90" y2="502.46" stroke="#000" stroke-width="1.3" />
<line x1="671.60" y1="502.46" x2="680.60" y2="502.46" stroke="#000" stroke-width="1.3" />
<line x1="72.40" y1="515.85" x2="77.20" y2="515.85" stroke="#000" stroke-width="1.3" />
<line x1="355.10" y1="515.85" x2="364.50" y2="515.85" stroke="#000" stroke-width="1.3" />
<line x1="676.00" y1="515.85" x2="680.60" y2="515.85" stroke="#000" stroke-width="1.3" />
<line x1="72.40" y1="546.95" x2="81.90" y2="546.95" stroke="#000" stroke-width="1.3" />
<line x1="350.40" y1="546.95" x2="368.90" y2="546.95" stroke="#000" stroke-width="1.3" />
<line x1="671.60" y1="546.95" x2="680.60" y2="546.95" stroke="#000" stroke-width="1.3" />
<line x1="72.40" y1="560.34" x2="77.20" y2="560.34" stroke="#000" stroke-width="1.3" />
<line x1="355.10" y1="560.34" x2="364.50" y2="560.34" stroke="#000" stroke-width="1.3" />
<line x1="676.00" y1="560.34" x2="680.60" y2="560.34" stroke="#000" stroke-width="1.3" />
<line x1="72.40" y1="591.44" x2="81.90" y2="591.44" stroke="#000" stroke-width="1.3" />
<line x1="350.40" y1="591.44" x2="368.90" y2="591.44" stroke="#000" stroke-width="1.3" />
<line x1="671.60" y1="591.44" x2="680.60" y2="591.44" stroke="#000" stroke-width="1.3" />
<text x="65.8" y="51.5" font-size="20" text-anchor="end" stroke="#000" stroke-width="0.2" >10</text>
<text x="67.9" y="138.2" font-size="20" text-anchor="end" stroke="#000" stroke-width="0.2" >10<tspan font-size="13.3" dy="-8.7">−1</tspan></text>
<text x="66.3" y="222.8" font-size="20" text-anchor="end" stroke="#000" stroke-width="0.2" >10<tspan font-size="13.3" dy="-8.7">−3</tspan></text>
<text x="66.3" y="307.5" font-size="20" text-anchor="end" stroke="#000" stroke-width="0.2" >10<tspan font-size="13.3" dy="-8.7">−5</tspan></text>
<text x="65.8" y="332.5" font-size="20" text-anchor="end" stroke="#000" stroke-width="0.2" >10</text>
<text x="67.9" y="423.5" font-size="20" text-anchor="end" stroke="#000" stroke-width="0.2" >10<tspan font-size="13.3" dy="-8.7">−1</tspan></text>
<text x="66.3" y="512.5" font-size="20" text-anchor="end" stroke="#000" stroke-width="0.2" >10<tspan font-size="13.3" dy="-8.7">−3</tspan></text>
<text x="66.3" y="601.4" font-size="20" text-anchor="end" stroke="#000" stroke-width="0.2" >10<tspan font-size="13.3" dy="-8.7">−5</tspan></text>
<text x="100.8" y="626.9" font-size="20.5" text-anchor="middle" stroke="#000" stroke-width="0.2" >0</text>
<text x="204.3" y="626.9" font-size="20.5" text-anchor="middle" stroke="#000" stroke-width="0.2" >2</text>
<text x="307.8" y="626.9" font-size="20.5" text-anchor="middle" stroke="#000" stroke-width="0.2" >4</text>
<text x="391.8" y="626.9" font-size="20.5" text-anchor="middle" stroke="#000" stroke-width="0.2" >0</text>
<text x="507.2" y="626.9" font-size="20.5" text-anchor="middle" stroke="#000" stroke-width="0.2" >2</text>
<text x="622.6" y="626.9" font-size="20.5" text-anchor="middle" stroke="#000" stroke-width="0.2" >4</text>
<text x="162.1" y="646.6" font-size="26" text-anchor="start" stroke="#000" stroke-width="0.2" letter-spacing="0.2">z = N/</text>
<polyline points="240.3,627.4 234.7,639.6 240.3,651.8" fill="none" stroke="#000" stroke-width="1.5" stroke-linejoin="miter"/>
<text x="241.7" y="646.6" font-size="26" text-anchor="start" stroke="#000" stroke-width="0.2" >N</text>
<polyline points="260.7,627.4 266.3,639.6 260.7,651.8" fill="none" stroke="#000" stroke-width="1.5" stroke-linejoin="miter"/>
<text x="467.1" y="646.6" font-size="26" text-anchor="start" stroke="#000" stroke-width="0.2" letter-spacing="0.2">z = N/</text>
<polyline points="545.3,627.4 539.7,639.6 545.3,651.8" fill="none" stroke="#000" stroke-width="1.5" stroke-linejoin="miter"/>
<text x="546.7" y="646.6" font-size="26" text-anchor="start" stroke="#000" stroke-width="0.2" >N</text>
<polyline points="565.7,627.4 571.3,639.6 565.7,651.8" fill="none" stroke="#000" stroke-width="1.5" stroke-linejoin="miter"/>
<g transform="translate(13,195.8) rotate(-90)"><path d="M0.4,2.3 C0.7,0.9 1.7,0.2 2.9,0.2 C3.9,0.2 4.3,1.0 4.3,2.2 L4.3,6.0 C4.3,8.4 6.4,9.9 9.5,9.9 L9.5,11.3 C5.0,11.3 1.6,9.5 1.6,6.0 L1.6,2.9 C1.6,2.1 1.3,1.8 0.9,2.5 Z M20.0,2.3 C19.7,0.9 18.7,0.2 17.5,0.2 C16.5,0.2 16.1,1.0 16.1,2.2 L16.1,6.0 C16.1,8.4 14.0,9.9 10.9,9.9 L10.9,11.3 C15.4,11.3 18.8,9.5 18.8,6.0 L18.8,2.9 C18.8,2.1 19.1,1.8 19.5,2.5 Z M9.4,0.3 L11.0,0.3 L11.0,18 L9.4,18 Z M7.3,18.5 L13.1,18.5 L13.1,17.2 L7.3,17.2 Z M8.0,0 L12.4,0 L12.4,0.9 L8.0,0.9 Z" fill="#000"/></g>
<text transform="translate(31.5,175.3) rotate(-90)" font-size="26.2" letter-spacing="0.6" stroke="#000" stroke-width="0.2">(z)</text>
<g transform="translate(13,482.5) rotate(-90)"><path d="M0.4,2.3 C0.7,0.9 1.7,0.2 2.9,0.2 C3.9,0.2 4.3,1.0 4.3,2.2 L4.3,6.0 C4.3,8.4 6.4,9.9 9.5,9.9 L9.5,11.3 C5.0,11.3 1.6,9.5 1.6,6.0 L1.6,2.9 C1.6,2.1 1.3,1.8 0.9,2.5 Z M20.0,2.3 C19.7,0.9 18.7,0.2 17.5,0.2 C16.5,0.2 16.1,1.0 16.1,2.2 L16.1,6.0 C16.1,8.4 14.0,9.9 10.9,9.9 L10.9,11.3 C15.4,11.3 18.8,9.5 18.8,6.0 L18.8,2.9 C18.8,2.1 19.1,1.8 19.5,2.5 Z M9.4,0.3 L11.0,0.3 L11.0,18 L9.4,18 Z M7.3,18.5 L13.1,18.5 L13.1,17.2 L7.3,17.2 Z M8.0,0 L12.4,0 L12.4,0.9 L8.0,0.9 Z" fill="#000"/></g>
<text transform="translate(31.5,462.0) rotate(-90)" font-size="26.2" letter-spacing="0.6" stroke="#000" stroke-width="0.2">(z)</text>
<text x="89.1" y="25.3" font-size="24.8" text-anchor="start" stroke="#000" stroke-width="0.2" >ep</text>
<path d="M128.2,13.6 L129.9,12.6 L132.3,24.8 L134.7,3.3 L150.2,3.3" fill="none" stroke="#000" stroke-width="1.2" stroke-linejoin="miter"/>
<path d="M129.6,12.9 L132.2,24.6" fill="none" stroke="#000" stroke-width="2.0"/>
<text x="137.9" y="25.3" font-size="24.8" text-anchor="start" stroke="#000" stroke-width="0.2" >s</text>
<text x="157.3" y="25.3" font-size="24.8" text-anchor="start" stroke="#000" stroke-width="0.2" >=</text>
<text x="178.8" y="25.3" font-size="24.8" text-anchor="start" stroke="#000" stroke-width="0.2" >319</text>
<text x="228.5" y="25.3" font-size="24.8" text-anchor="start" stroke="#000" stroke-width="0.2" >GeV</text>
<text x="521.4" y="25.3" font-size="24.8" text-anchor="start" stroke="#000" stroke-width="0.2" >0</text>
<text x="541.4" y="25.3" font-size="24.8" text-anchor="start" stroke="#000" stroke-width="0.2" >&lt;</text>
<text x="563.6" y="25.3" font-size="30" text-anchor="start" stroke="#000" stroke-width="0.2" font-family="Liberation Serif, serif">η</text>
<text x="579.0" y="25.3" font-size="24.8" text-anchor="start" stroke="#000" stroke-width="0.2" >*</text>
<text x="595.4" y="25.3" font-size="24.8" text-anchor="start" stroke="#000" stroke-width="0.2" >&lt;</text>
<text x="616.3" y="25.3" font-size="24.8" text-anchor="start" stroke="#000" stroke-width="0.2" letter-spacing="0.5">4.0</text>
<text x="344.7" y="61.8" font-size="22.7" text-anchor="end" stroke="#000" stroke-width="0.2" word-spacing="0.35">5 &lt; Q<tspan font-size="14.5" dy="-9.5">2</tspan><tspan dy="9.5"> &lt; 10 GeV</tspan><tspan font-size="14.5" dy="-9.5">2</tspan></text>
<text x="657.0" y="61.2" font-size="22.7" text-anchor="end" stroke="#000" stroke-width="0.2" word-spacing="0.35">10 &lt; Q<tspan font-size="14.5" dy="-9.5">2</tspan><tspan dy="9.5"> &lt; 20 GeV</tspan><tspan font-size="14.5" dy="-9.5">2</tspan></text>
<text x="345.5" y="341.0" font-size="22.7" text-anchor="end" stroke="#000" stroke-width="0.2" word-spacing="0.35">20 &lt; Q<tspan font-size="14.5" dy="-9.5">2</tspan><tspan dy="9.5"> &lt; 40 GeV</tspan><tspan font-size="14.5" dy="-9.5">2</tspan></text>
<text x="658.0" y="340.8" font-size="22.7" text-anchor="end" stroke="#000" stroke-width="0.2" word-spacing="0.35">40 &lt; Q<tspan font-size="14.5" dy="-9.5">2</tspan><tspan dy="9.5"> &lt; 100 GeV</tspan><tspan font-size="14.5" dy="-9.5">2</tspan></text>
<text x="88.7" y="77.9" font-size="37.2" text-anchor="start" stroke="#000" stroke-width="0.2" font-weight="bold">H</text>
<path d="M126.3,51.2 L130.8,51.2 L130.8,77.9 L125.7,77.9 L125.7,58.4 Q122.8,60.8 119,62 L119,57.5 Q123.8,55.6 126.3,51.2 Z" fill="#000"/>
<text x="88.9" y="489.8" font-size="24.3" text-anchor="start" stroke="#000" stroke-width="0.2" >H1 data</text>
<circle cx="99.2" cy="512.6" r="5.2" fill="#000"/>
<polyline points="112.6,503.8 108.0,512.6 112.6,521.4" fill="none" stroke="#000" stroke-width="1.2" stroke-linejoin="miter"/>
<text x="118.3" y="517.6" font-size="19.2" text-anchor="start" stroke="#000" stroke-width="0.2" >W</text>
<polyline points="143.9,503.8 148.5,512.6 143.9,521.4" fill="none" stroke="#000" stroke-width="1.2" stroke-linejoin="miter"/>
<text x="154.3" y="517.6" font-size="19.2" text-anchor="start" stroke="#000" stroke-width="0.2" >= 72 GeV</text>
<rect x="94.3" y="530.7" width="9.8" height="9.8" fill="#000"/>
<polyline points="112.6,526.8 108.0,535.6 112.6,544.4" fill="none" stroke="#000" stroke-width="1.2" stroke-linejoin="miter"/>
<text x="118.3" y="540.6" font-size="19.2" text-anchor="start" stroke="#000" stroke-width="0.2" >W</text>
<polyline points="143.9,526.8 148.5,535.6 143.9,544.4" fill="none" stroke="#000" stroke-width="1.2" stroke-linejoin="miter"/>
<text x="154.3" y="540.6" font-size="19.2" text-anchor="start" stroke="#000" stroke-width="0.2" >= 101 GeV</text>
<circle cx="99.2" cy="558.9" r="4.7" fill="none" stroke="#000" stroke-width="1.1"/>
<polyline points="112.6,550.1 108.0,558.9 112.6,567.7" fill="none" stroke="#000" stroke-width="1.2" stroke-linejoin="miter"/>
<text x="118.3" y="563.9" font-size="19.2" text-anchor="start" stroke="#000" stroke-width="0.2" >W</text>
<polyline points="143.9,550.1 148.5,558.9 143.9,567.7" fill="none" stroke="#000" stroke-width="1.2" stroke-linejoin="miter"/>
<text x="154.3" y="563.9" font-size="19.2" text-anchor="start" stroke="#000" stroke-width="0.2" >= 141 GeV</text>
<rect x="94.5" y="577.5" width="9.3" height="9.3" fill="none" stroke="#000" stroke-width="1.1"/>
<polyline points="112.6,573.4 108.0,582.2 112.6,591.0" fill="none" stroke="#000" stroke-width="1.2" stroke-linejoin="miter"/>
<text x="118.3" y="587.2" font-size="19.2" text-anchor="start" stroke="#000" stroke-width="0.2" >W</text>
<polyline points="143.9,573.4 148.5,582.2 143.9,591.0" fill="none" stroke="#000" stroke-width="1.2" stroke-linejoin="miter"/>
<text x="154.3" y="587.2" font-size="19.2" text-anchor="start" stroke="#000" stroke-width="0.2" >= 205 GeV</text>
</svg>
</body></html>
